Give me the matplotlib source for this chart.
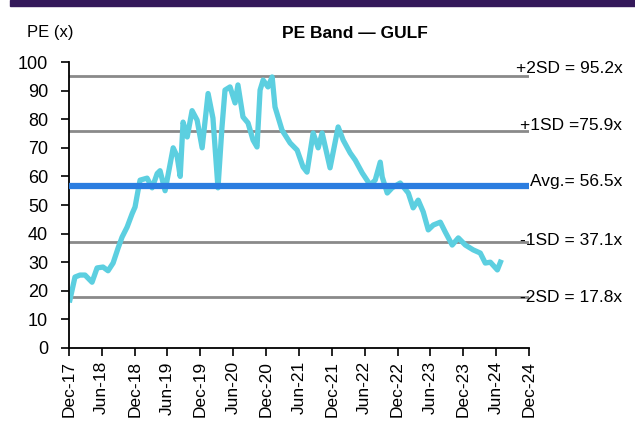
import numpy as np
import pandas as pd
import matplotlib
matplotlib.use("Agg")
import matplotlib.pyplot as plt
import matplotlib.dates as mdates
from matplotlib.patches import Rectangle

plt.rcParams['font.family'] = ['Liberation Sans', 'DejaVu Sans']

# PE readings (approximate)
dates = ["2017-12-06", "2018-01-03", "2018-01-31", "2018-02-28", "2018-04-08",
         "2018-05-06", "2018-06-08", "2018-07-06", "2018-08-03", "2018-08-31",
         "2018-09-22", "2018-10-20", "2018-11-17", "2018-12-03", "2018-12-20",
         "2018-12-31", "2019-02-08", "2019-03-08", "2019-04-05", "2019-04-21",
         "2019-05-19", "2019-07-03", "2019-07-25", "2019-08-11", "2019-08-27",
         "2019-09-19", "2019-10-16", "2019-11-13", "2019-12-11", "2020-01-13",
         "2020-02-09", "2020-03-08", "2020-03-30", "2020-04-16", "2020-05-14",
         "2020-06-11", "2020-06-27", "2020-07-25", "2020-08-22", "2020-09-19",
         "2020-10-11", "2020-10-28", "2020-11-14", "2020-12-11", "2021-01-03",
         "2021-01-19", "2021-02-27", "2021-04-13", "2021-05-22", "2021-06-24",
         "2021-07-16", "2021-08-19", "2021-09-16", "2021-10-08", "2021-11-21",
         "2022-01-05", "2022-02-02", "2022-03-13", "2022-04-10", "2022-05-19",
         "2022-07-02", "2022-07-30", "2022-08-27", "2022-09-07", "2022-10-05",
         "2022-11-01", "2022-12-16", "2023-01-30", "2023-02-26", "2023-03-26",
         "2023-04-23", "2023-05-21", "2023-06-18", "2023-07-27", "2023-08-23",
         "2023-10-01", "2023-11-04", "2023-12-13", "2024-01-26", "2024-03-05",
         "2024-04-02", "2024-04-30", "2024-06-08", "2024-06-25"]
pe = [16.8, 24.8, 25.5, 25.5, 23.0,
      28.0, 28.3, 27.0, 29.7, 35.0,
      38.8, 42.3, 47.0, 49.3, 55.2,
      58.7, 59.4, 56.0, 61.0, 62.0,
      55.0, 70.0, 67.0, 60.0, 79.0,
      73.8, 83.0, 79.7, 70.0, 89.0,
      80.4, 56.0, 77.0, 90.2, 91.3,
      85.7, 92.0, 80.8, 78.7, 72.7,
      70.3, 90.2, 93.7, 91.3, 94.8,
      84.3, 76.2, 71.7, 69.2, 63.3,
      61.5, 75.2, 70.0, 75.2, 63.0,
      77.3, 72.7, 68.2, 65.7, 61.2,
      57.0, 58.7, 65.0, 59.8, 54.2,
      56.0, 57.7, 54.2, 49.0, 51.7,
      47.6, 41.3, 43.0, 44.0, 40.6,
      36.0, 38.5, 36.0, 34.3, 33.2,
      29.7, 30.0, 27.3, 30.0]

band_names = ["+2SD = 95.2x", "+1SD =75.9x", "Avg.= 56.5x", "-1SD = 37.1x", "-2SD = 17.8x"]
band_values = [95.2, 75.9, 56.5, 37.1, 17.8]

dates = pd.to_datetime(dates)
start = pd.Timestamp("2017-12-01")
end = pd.Timestamp("2024-12-01")

fig = plt.figure(figsize=(6.35, 4.28), dpi=100)
ax = fig.add_axes([0.1087, 0.187, 0.7244, 0.668])

# purple strip at the top
fig.patches.append(Rectangle((10 / 635, 1 - 6 / 428), 1, 6 / 428,
                             transform=fig.transFigure, color="#34195a", zorder=5))

label_dy = [7, 5, 5, 1, 0]
for name, val, dy in zip(band_names, band_values, label_dy):
    if name.startswith("Avg"):
        ax.axhline(val, color="#2b7de0", lw=4.5, zorder=3)
    else:
        ax.axhline(val, color="#8a8a8a", lw=2, zorder=1)
    ax.annotate(name, xy=(1.203, val), xycoords=("axes fraction", "data"),
                xytext=(0, dy), textcoords="offset pixels",
                ha="right", va="center", fontsize=12.5, annotation_clip=False)

ax.plot(dates, pe, color="#5ccfe0", lw=3.8, zorder=2, solid_joinstyle="round")

ax.set_xlim(start, end)
ax.set_ylim(0, 100)
ax.set_yticks(range(0, 101, 10))
ax.xaxis.set_major_locator(mdates.MonthLocator(bymonth=[6, 12]))
ax.xaxis.set_major_formatter(mdates.DateFormatter("%b-%y"))
plt.setp(ax.get_xticklabels(), rotation=90)
ax.tick_params(axis="both", length=6, width=1.2, direction="out")
ax.tick_params(axis="y", labelsize=13, pad=9)
ax.tick_params(axis="x", labelsize=12.5)

for s in ["top", "right"]:
    ax.spines[s].set_visible(False)
for s in ["left", "bottom"]:
    ax.spines[s].set_linewidth(1.3)

fig.text(27 / 635, 1 - 33 / 428, "PE (x)", fontsize=12, va="center", ha="left")
fig.text(355 / 635, 1 - 33 / 428, "PE Band \u2014 GULF", fontsize=12.5,
         fontweight="bold", va="center", ha="center")

fig.savefig("out.png", dpi=100)
